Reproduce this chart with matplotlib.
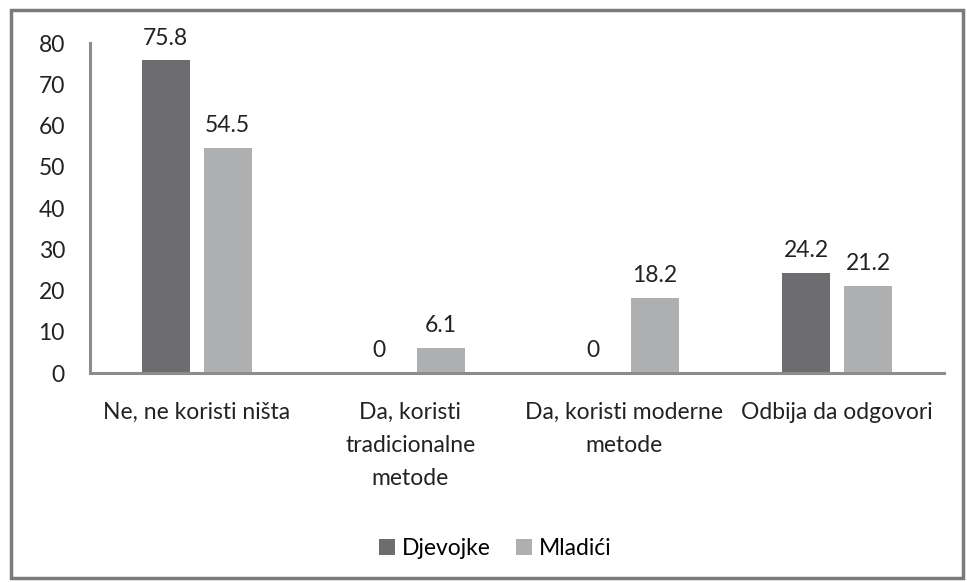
import matplotlib
matplotlib.use("Agg")
import matplotlib.pyplot as plt
import numpy as np
from matplotlib.patches import Rectangle

categories = ["Ne, ne koristi ništa", "Da, koristi\ntradicionalne\nmetode",
              "Da, koristi moderne\nmetode", "Odbija da odgovori"]
series_names = ["Djevojke", "Mladići"]
djevojke = [75.8, 0, 0, 24.2]
mladici = [54.5, 6.1, 18.2, 21.2]
yticks = [0, 10, 20, 30, 40, 50, 60, 70, 80]

plt.rcParams['font.family'] = ['Lato', 'DejaVu Sans']
fig = plt.figure(figsize=(9.67, 5.82), dpi=100)
ax = fig.add_axes([0.093, 0.359, 0.883, 0.567])

x = np.arange(len(categories))
w = 0.225
gap = 0.066
c_dark = "#6d6d6f"
c_light = "#aeafb1"
fs = 16.5
b1 = ax.bar(x - (w + gap) / 2, djevojke, w, color=c_dark, label=series_names[0])
b2 = ax.bar(x + (w + gap) / 2, mladici, w, color=c_light, label=series_names[1])

for bars, vals in ((b1, djevojke), (b2, mladici)):
    for b, v in zip(bars, vals):
        ax.annotate(f"{v:g}", (b.get_x() + b.get_width() / 2, v), xytext=(0, 8.5),
                    textcoords="offset points", ha="center", va="bottom",
                    fontsize=fs, color="#222222")

ax.set_xlim(-0.5, len(categories) - 0.5)
ax.set_ylim(0, 80)
ax.set_yticks(yticks)
ax.set_xticks(x)
ax.set_xticklabels(categories, fontsize=fs, color="#222222", linespacing=1.7)
ax.tick_params(axis="both", length=0, labelsize=fs, colors="#222222")
ax.tick_params(axis="y", pad=18)
ax.tick_params(axis="x", pad=21)
for s in ("top", "right"):
    ax.spines[s].set_visible(False)
for s in ("left", "bottom"):
    ax.spines[s].set_color("#8c8c8c")
    ax.spines[s].set_linewidth(2.2)

fig.legend(handles=[b1, b2], labels=series_names, loc="center",
           bbox_to_anchor=(0.512, 0.058), ncol=2, frameon=False, fontsize=fs,
           handlelength=0.7, handleheight=0.7, handletextpad=0.3, columnspacing=1.1)

fig.patches.append(Rectangle((0.011, 0.007), 0.985, 0.976, transform=fig.transFigure,
                             fill=False, edgecolor="#7a7a7a", linewidth=2.5))

fig.savefig("out.png", dpi=100)
